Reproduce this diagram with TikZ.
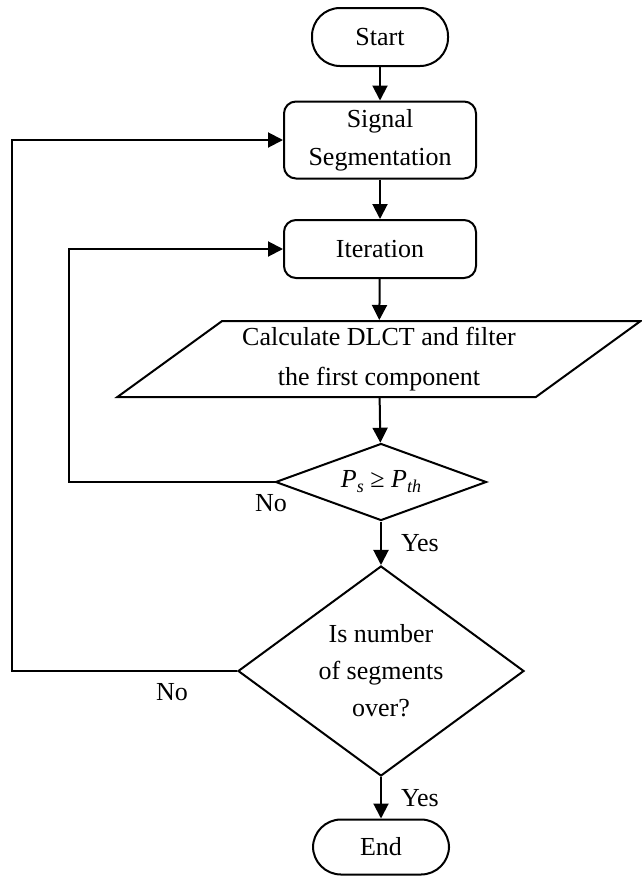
\documentclass[tikz,border=0pt]{standalone}
\usepackage{fontspec}
\setmainfont{Liberation Serif}
\usetikzlibrary{shapes.geometric,arrows.meta}

\begin{document}
\begin{tikzpicture}[
    x=1pt, y=-1pt,
    line width=2pt,
    font=\fontsize{26}{38}\selectfont,
    terminal/.style = {
      draw, rectangle, rounded corners=28pt,
      minimum width=136pt, minimum height=58pt
    },
    process/.style = {
      draw, rectangle, rounded corners=12pt, align=center,
      minimum width=192pt
    },
    io/.style = {
      draw, trapezium, trapezium stretches=true,
      trapezium left angle=37, trapezium right angle=143,
      align=center, font=\fontsize{26}{40}\selectfont
    },
    decision/.style = {draw, diamond, align=center, inner sep=0pt},
    flow/.style = {-{Triangle[length=15pt,width=15pt]}},
    answer/.style = {inner sep=0pt}
  ]
  \useasboundingbox (0,0) rectangle (641,876);

  \node (START) [terminal] at (380,37) {Start};
  \node (SEG) [process, minimum height=77pt] at (380,140) {Signal\\ Segmentation};
  \node (ITER) [process, minimum height=58pt] at (380,249) {Iteration};
  \node (DLCT) [io, minimum width=524pt, minimum height=76pt] at (379,359)
    {Calculate DLCT and filter\\ the first component};
  \node (PTH) [decision, shape aspect=2.74, minimum width=211pt, minimum height=77pt]
    at (381,482) {\textit{P}\raisebox{-5pt}{\fontsize{18}{18}\selectfont\textit{s}} ≥
      \textit{P}\raisebox{-5pt}{\fontsize{18}{18}\selectfont\textit{th}}};
  \node (OVER) [decision, shape aspect=1.36, minimum width=286pt, minimum height=210pt,
    font=\fontsize{26}{37}\selectfont] at (381,671) {Is number\\ of segments\\ over?};
  \node (END) [terminal, minimum height=55pt] at (381,847) {End};

  \draw [flow] (START) -- (SEG);
  \draw [flow] (SEG) -- (ITER);
  \draw [flow] (ITER) -- (DLCT);
  \draw [flow] (DLCT) -- (PTH);
  \draw [flow] (PTH) -- node [answer, right=19pt] {Yes} (OVER);
  \draw [flow] (OVER) -- node [answer, right=19pt] {Yes} (END);

  % loops back
  \draw [flow] (PTH.west) -- ++(-206,0) |- (ITER.west);
  \draw [flow] (OVER.west) -- ++(-225,0) |- (SEG.west);

  \node (NO1) [answer] at (271,503) {No};
  \node (NO2) [answer] at (172,692) {No};
\end{tikzpicture}
\end{document}
